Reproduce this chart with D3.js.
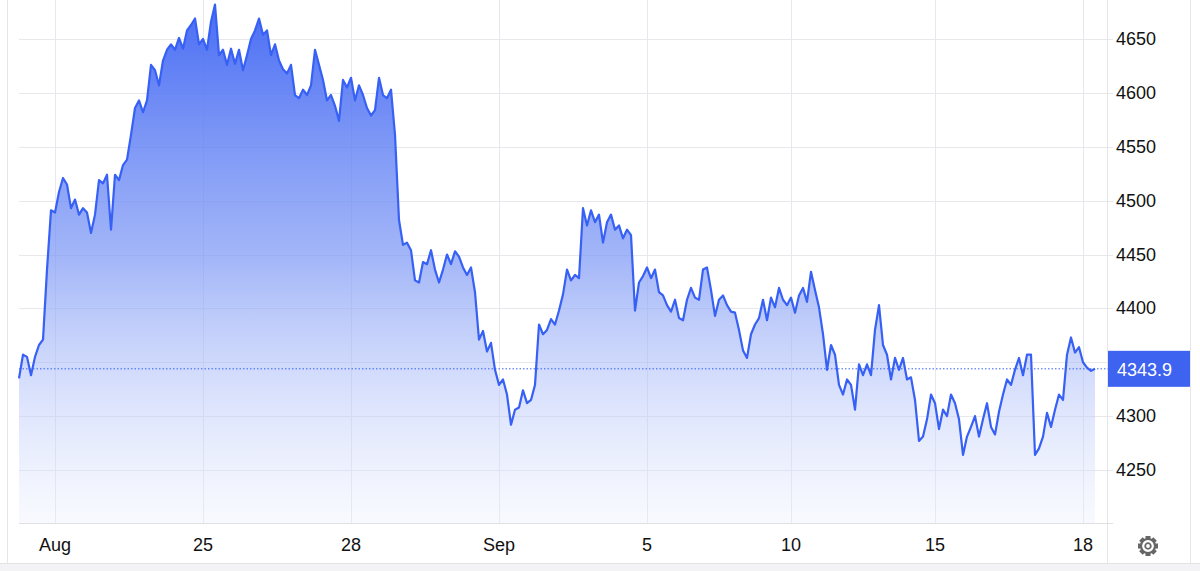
<!DOCTYPE html>
<html><head><meta charset="utf-8">
<script src="https://cdn.jsdelivr.net/npm/d3@7"></script>
<style>body{margin:0;background:#fff;font-family:"Liberation Sans",Arial,sans-serif}</style>
</head><body><svg id="c" width="1200" height="571"></svg>
<script>
const prices = [4335,4357,4355,4338,4355,4366,4371,4436,4491,4489,4508,4521,4515,4493,4501,4487,4493,4489,4470,4487,
4519,4516,4524,4473,4524,4519,4533,4538,4561,4586,4593,4582,4593,4626,4621,4607,4630,4640,4645,4640,
4651,4641,4658,4663,4669,4645,4650,4640,4666,4682,4635,4640,4626,4641,4627,4640,4621,4635,4650,4658,
4669,4654,4658,4635,4645,4630,4622,4618,4626,4598,4595,4603,4598,4607,4640,4626,4612,4593,4598,4588,
4574,4612,4605,4614,4593,4607,4598,4586,4579,4584,4614,4598,4595,4603,4561,4482,4459,4461,4454,4426,
4424,4443,4441,4454,4436,4424,4436,4450,4441,4453,4448,4438,4431,4438,4415,4371,4379,4360,4368,4343,
4329,4334,4320,4292,4306,4308,4324,4312,4315,4329,4385,4376,4380,4390,4385,4398,4413,4436,4426,4431,
4428,4493,4477,4491,4480,4487,4461,4480,4487,4473,4477,4465,4473,4468,4398,4424,4430,4438,4428,4436,
4415,4412,4403,4397,4408,4391,4389,4408,4419,4410,4408,4436,4438,4417,4393,4408,4412,4403,4397,4396,
4380,4361,4354,4376,4385,4391,4408,4389,4410,4401,4419,4408,4403,4410,4396,4412,4419,4406,4434,4417,
4401,4376,4343,4366,4357,4329,4320,4334,4329,4306,4348,4338,4348,4338,4380,4403,4366,4357,4334,4354,
4343,4354,4334,4336,4315,4277,4281,4297,4320,4312,4288,4306,4300,4320,4312,4297,4264,4281,4290,4300,
4281,4297,4312,4290,4283,4304,4320,4334,4329,4343,4354,4338,4357,4357,4264,4270,4281,4303,4290,4306,
4320,4315,4357,4373,4359,4364,4350,4345,4342,4343.9];
const tickLabels = ["Aug","25","28","Sep","5","10","15","18"];
const tickIdx = [9,46,83,120,157,193,229,266];
const yTicks = [4250,4300,4350,4400,4450,4500,4550,4600,4650];
const last = prices[prices.length-1];

const svg = d3.select("#c");
const x = d3.scaleLinear().domain([0, prices.length-1]).range([19, 1095]);
const y = d3.scaleLinear().domain([4250, 4650]).range([470, 39]);
const grid = "#e8e8ec";

// frame
svg.append("rect").attr("x",0).attr("y",563).attr("width",1200).attr("height",8).attr("fill","#f3f3f5");
svg.append("line").attr("x1",0).attr("x2",1200).attr("y1",563.5).attr("y2",563.5).attr("stroke","#e2e2e2");
svg.append("line").attr("x1",7.5).attr("x2",7.5).attr("y1",0).attr("y2",563).attr("stroke","#e6e6e6");
svg.append("line").attr("x1",1107.5).attr("x2",1107.5).attr("y1",0).attr("y2",563).attr("stroke","#e6e6e6");
svg.append("line").attr("x1",1190.5).attr("x2",1190.5).attr("y1",0).attr("y2",563).attr("stroke","#e6e6e6");

// grid
svg.append("g").selectAll("line").data(yTicks).join("line")
  .attr("x1",19).attr("x2",1113).attr("y1",d=>Math.round(y(d))+.5).attr("y2",d=>Math.round(y(d))+.5)
  .attr("stroke",grid);
svg.append("g").selectAll("line").data(tickIdx).join("line")
  .attr("x1",d=>Math.round(x(d))+.5).attr("x2",d=>Math.round(x(d))+.5).attr("y1",0).attr("y2",523)
  .attr("stroke",grid);
svg.append("line").attr("x1",19).attr("x2",1113).attr("y1",523.5).attr("y2",523.5).attr("stroke","#e0e0e0");

// area
const defs = svg.append("defs");
const g = defs.append("linearGradient").attr("id","fillg")
  .attr("gradientUnits","userSpaceOnUse").attr("x1",0).attr("x2",0).attr("y1",0).attr("y2",523);
g.append("stop").attr("offset",0).attr("stop-color","#3d63f3").attr("stop-opacity",0.95);
g.append("stop").attr("offset",0.5).attr("stop-color","#7d98f5").attr("stop-opacity",0.7);
g.append("stop").attr("offset",1).attr("stop-color","#e8edfd").attr("stop-opacity",0.3);
svg.append("path").datum(prices)
  .attr("d", d3.area().x((d,i)=>x(i)).y0(523).y1(d=>y(d)))
  .attr("fill","url(#fillg)");
svg.append("path").datum(prices)
  .attr("d", d3.line().x((d,i)=>x(i)).y(d=>y(d)))
  .attr("fill","none").attr("stroke","#3760f5").attr("stroke-width",2.2).attr("stroke-linejoin","round");

// last price line
svg.append("line").attr("x1",19).attr("x2",1108).attr("y1",y(last)).attr("y2",y(last))
  .attr("stroke","#3760f5").attr("stroke-width",1).attr("stroke-dasharray","1.5,2");

// y labels
svg.append("g").selectAll("text").data(yTicks.filter(d=>d!==4350)).join("text")
  .attr("x",1116).attr("y",d=>y(d)+6).attr("font-size",18).attr("fill","#111").text(d=>d);
svg.append("rect").attr("x",1108).attr("y",y(last)-18).attr("width",82).attr("height",36).attr("fill","#3d63f0");
svg.append("text").attr("x",1117).attr("y",y(last)+7).attr("font-size",18).attr("fill","#fff").text(last.toFixed(1));

// x labels
svg.append("g").selectAll("text").data(tickIdx).join("text")
  .attr("x",d=>x(d)).attr("y",551).attr("text-anchor","middle").attr("font-size",18).attr("fill","#111")
  .text((d,i)=>tickLabels[i]);

// gear
const gear = svg.append("g").attr("transform","translate(1148,546)");
gear.selectAll("rect").data(d3.range(8)).join("rect")
  .attr("x",-2.5).attr("y",-10).attr("width",5).attr("height",5).attr("fill","#666")
  .attr("transform",d=>`rotate(${d*45})`);
gear.append("circle").attr("r",7).attr("fill","#fff").attr("stroke","#666").attr("stroke-width",2.2);
gear.append("circle").attr("r",2.8).attr("fill","none").attr("stroke","#666").attr("stroke-width",1.8);
</script></body></html>
